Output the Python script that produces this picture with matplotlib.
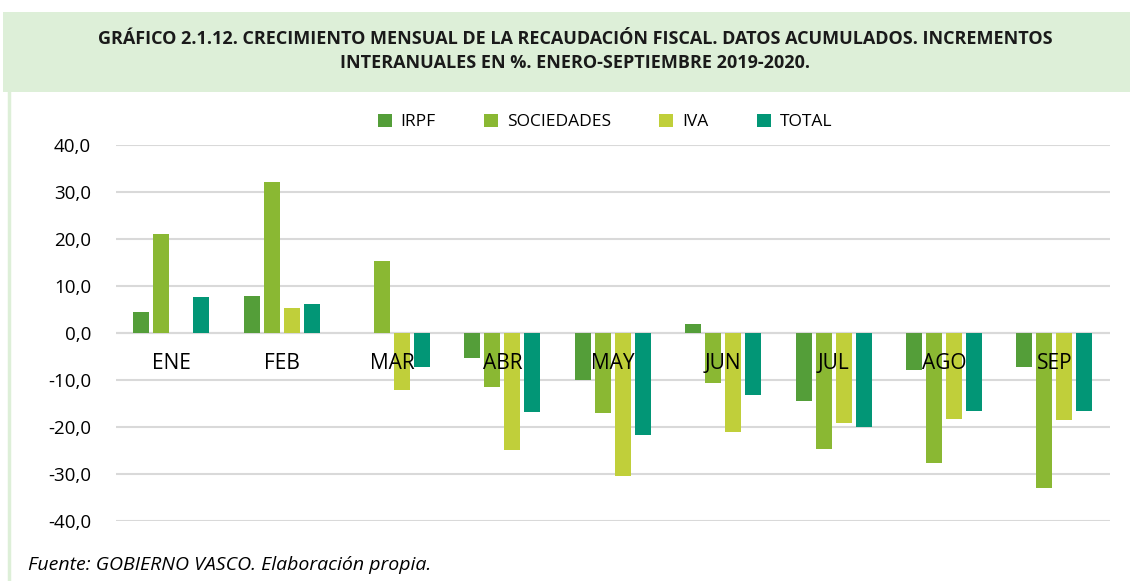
import numpy as np
import matplotlib
matplotlib.use("Agg")
import matplotlib.pyplot as plt
from matplotlib.patches import Rectangle
from matplotlib.ticker import FuncFormatter

meses = ["ENE", "FEB", "MAR", "ABR", "MAY", "JUN", "JUL", "AGO", "SEP"]
irpf = [4.5, 7.8, 0.0, -5.4, -10.0, 1.9, -14.5, -7.9, -7.2]
sociedades = [21.0, 32.1, 15.3, -11.4, -17.0, -10.6, -24.7, -27.7, -33.0]
iva = [0.0, 5.3, -12.1, -25.0, -30.5, -21.1, -19.1, -18.3, -18.5]
total = [7.7, 6.2, -7.2, -16.9, -21.8, -13.1, -19.9, -16.6, -16.5]

series = ["IRPF", "SOCIEDADES", "IVA", "TOTAL"]
colores = ["#549E39", "#8AB833", "#C0CF3A", "#029676"]

plt.rcParams["font.family"] = ["Open Sans", "DejaVu Sans"]

fig = plt.figure(figsize=(11.3, 5.81), dpi=100)
ax = fig.add_axes([0.1027, 0.1033, 0.8793, 0.6471])

x = np.arange(len(meses))
paso = 0.181
ancho = 0.145
for i, (nombre, vals) in enumerate(zip(series, [irpf, sociedades, iva, total])):
    ax.bar(x + (i - 1.5) * paso, vals, width=ancho, color=colores[i], label=nombre, zorder=3)

ax.set_xlim(-0.5, len(meses) - 0.5)
ax.set_ylim(-40, 40)
ax.set_yticks(np.arange(-40, 41, 10))
ax.yaxis.set_major_formatter(FuncFormatter(lambda v, p: f"{v:.1f}".replace(".", ",")))
ax.grid(axis="y", color="#D9D9D9", linewidth=1.5, zorder=0)
for s in ["top", "right", "left", "bottom"]:
    ax.spines[s].set_visible(False)
ax.axhline(0, color="#D9D9D9", linewidth=1.5, zorder=1)
ax.set_xticks([])
ax.tick_params(axis="y", length=0, pad=18, labelsize=13.5)

# etiquetas de mes encima de las barras
for xi, m in zip(x, meses):
    ax.text(xi, -6.4, m, ha="center", va="center", fontsize=15, zorder=6)

ax.legend(loc="upper center", bbox_to_anchor=(0.492, 1.125), ncol=4, frameon=False,
          fontsize=12.5, handlelength=0.8, handleheight=0.8, columnspacing=2.8, handletextpad=0.5)

# caja del titulo
fig.patches.append(Rectangle((0.003, 0.842), 1.0, 0.137, transform=fig.transFigure,
                             facecolor="#DDEFD8", edgecolor="none", zorder=0))
fig.add_artist(plt.Line2D([0.008, 0.008], [0.0, 0.842], transform=fig.transFigure,
                          color="#DDEFD8", linewidth=2.5))
fig.text(0.509, 0.933, "GRÁFICO 2.1.12. CRECIMIENTO MENSUAL DE LA RECAUDACIÓN FISCAL. DATOS ACUMULADOS. INCREMENTOS",
         ha="center", va="center", fontsize=13, fontweight="bold", color="#1a1a1a")
fig.text(0.509, 0.892, "INTERANUALES EN %. ENERO-SEPTIEMBRE 2019-2020.",
         ha="center", va="center", fontsize=13, fontweight="bold", color="#1a1a1a")

fig.text(0.025, 0.027, "Fuente: GOBIERNO VASCO. Elaboración propia.", fontsize=14, style="italic",
         ha="left", va="center")

fig.savefig("out.png", dpi=100)
